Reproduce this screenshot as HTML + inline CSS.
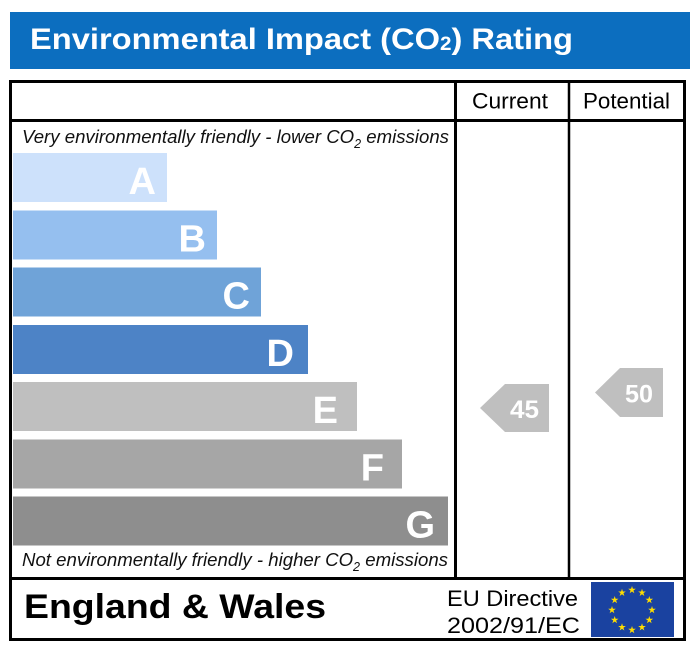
<!DOCTYPE html>
<html>
<head>
<meta charset="utf-8">
<style>
  html,body{margin:0;padding:0;background:#fff;}
  svg{display:block;}
  text{font-family:"Liberation Sans", Arial, sans-serif;}
</style>
</head>
<body>
<svg width="700" height="652" viewBox="0 0 700 652" xmlns="http://www.w3.org/2000/svg">
  <defs>
    <polygon id="st" points="0,-4 0.9,-1.24 3.8,-1.24 1.45,0.47 2.35,3.24 0,1.53 -2.35,3.24 -1.45,0.47 -3.8,-1.24 -0.9,-1.24" fill="#ffdd00"/>
  </defs>
  <rect width="700" height="652" fill="#fff"/>

  <!-- Title bar -->
  <rect x="10" y="12" width="680" height="57" fill="#0c6ebf"/>
  <text x="30" y="49" font-size="30" font-weight="bold" fill="#fff" textLength="543" lengthAdjust="spacingAndGlyphs">Environmental Impact (CO<tspan font-size="19" dy="1">2</tspan><tspan dy="-1">) Rating</tspan></text>

  <!-- Bars -->
  <rect x="13" y="153" width="154" height="49" fill="#cde1fb"/>
  <rect x="13" y="210.5" width="204" height="49" fill="#95bfef"/>
  <rect x="13" y="267.5" width="248" height="49" fill="#6fa3d8"/>
  <rect x="13" y="325" width="295" height="49" fill="#4d83c6"/>
  <rect x="13" y="382" width="344" height="49" fill="#bfbfbf"/>
  <rect x="13" y="439.5" width="389" height="49" fill="#a6a6a6"/>
  <rect x="13" y="496.5" width="435" height="49" fill="#8e8e8e"/>

  <g font-size="38" font-weight="bold" fill="#fff" text-anchor="end">
    <text x="156" y="194">A</text>
    <text x="206" y="251.5">B</text>
    <text x="250" y="308.5">C</text>
    <text x="294" y="366">D</text>
    <text x="338" y="423">E</text>
    <text x="384" y="480.5">F</text>
    <text x="435" y="537.5">G</text>
  </g>

  <!-- Italic captions -->
  <text x="22" y="143" font-size="18.5" font-style="italic" fill="#111" textLength="427" lengthAdjust="spacingAndGlyphs">Very environmentally friendly - lower CO<tspan font-size="12.5" dy="5">2</tspan><tspan dy="-5"> emissions</tspan></text>
  <text x="22" y="566" font-size="18.5" font-style="italic" fill="#111" textLength="426" lengthAdjust="spacingAndGlyphs">Not environmentally friendly - higher CO<tspan font-size="12.5" dy="5">2</tspan><tspan dy="-5"> emissions</tspan></text>

  <!-- Column headers -->
  <text x="472" y="108.5" font-size="22.5" fill="#000" textLength="76" lengthAdjust="spacingAndGlyphs">Current</text>
  <text x="583" y="108.5" font-size="22.5" fill="#000" textLength="87" lengthAdjust="spacingAndGlyphs">Potential</text>

  <!-- Arrows -->
  <polygon points="480,408 505,384 549,384 549,432 505,432" fill="#bfbfbf"/>
  <text x="510" y="418" font-size="25" font-weight="bold" fill="#fff" textLength="29" lengthAdjust="spacingAndGlyphs">45</text>
  <polygon points="595,392.5 620,368 663,368 663,417 620,417" fill="#bfbfbf"/>
  <text x="625" y="402.5" font-size="25" font-weight="bold" fill="#fff" textLength="28" lengthAdjust="spacingAndGlyphs">50</text>

  <!-- Table lines -->
  <g stroke="#000" fill="none">
    <rect x="10.5" y="81.5" width="674" height="558" stroke-width="3"/>
    <line x1="10" y1="120.5" x2="685" y2="120.5" stroke-width="3"/>
    <line x1="10" y1="578.5" x2="685" y2="578.5" stroke-width="3"/>
    <line x1="455.5" y1="81" x2="455.5" y2="579" stroke-width="3"/>
    <line x1="569" y1="81" x2="569" y2="579" stroke-width="2.5"/>
  </g>

  <!-- Footer -->
  <text x="24" y="618" font-size="34" font-weight="bold" fill="#000" textLength="302" lengthAdjust="spacingAndGlyphs">England &amp; Wales</text>
  <text x="447" y="606" font-size="22" fill="#000" textLength="131" lengthAdjust="spacingAndGlyphs">EU Directive</text>
  <text x="447" y="633" font-size="22" fill="#000" textLength="133" lengthAdjust="spacingAndGlyphs">2002/91/EC</text>

  <!-- EU flag -->
  <rect x="591" y="582" width="83" height="55" fill="#1a42a0"/>
  <use href="#st" x="632" y="590"/>
  <use href="#st" x="642" y="592.7"/>
  <use href="#st" x="649.3" y="600"/>
  <use href="#st" x="652" y="610"/>
  <use href="#st" x="649.3" y="620"/>
  <use href="#st" x="642" y="627.3"/>
  <use href="#st" x="632" y="630"/>
  <use href="#st" x="622" y="627.3"/>
  <use href="#st" x="614.7" y="620"/>
  <use href="#st" x="612" y="610"/>
  <use href="#st" x="614.7" y="600"/>
  <use href="#st" x="622" y="592.7"/>
</svg>
</body>
</html>
